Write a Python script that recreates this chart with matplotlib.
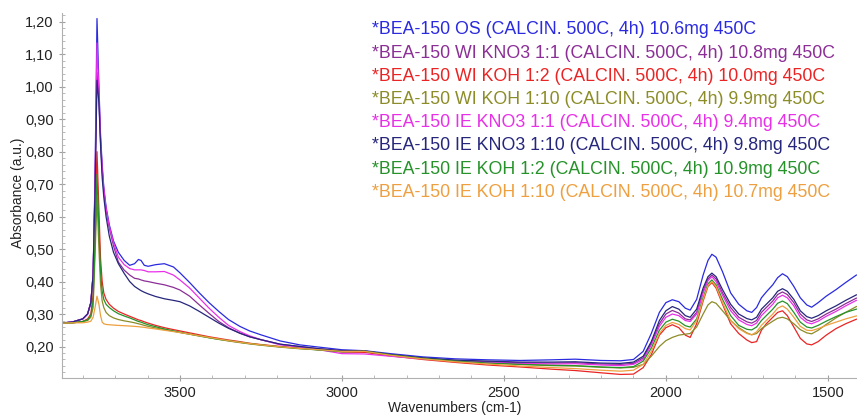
import matplotlib
matplotlib.use("Agg")
import matplotlib.pyplot as plt
from matplotlib.ticker import MultipleLocator, FuncFormatter

plt.rcParams['font.family'] = ['Liberation Sans', 'DejaVu Sans']

wavenumbers = [3864, 3830, 3800, 3785, 3775, 3768, 3762, 3756, 3750, 3745, 3740, 3735, 3728, 3718,
               3705, 3690, 3672, 3655, 3640, 3628, 3620, 3610, 3598, 3575, 3548, 3520, 3500, 3470,
               3440, 3410, 3380, 3350, 3315, 3285, 3250, 3190, 3130, 3070,
               3000, 2930, 2850, 2750, 2650, 2550, 2450, 2350, 2280, 2200, 2140, 2100,
               2070, 2045, 2020, 2000, 1980, 1960, 1940, 1925, 1905, 1885, 1870, 1858, 1845, 1825,
               1800, 1775, 1750, 1735, 1720, 1705, 1690, 1670, 1655, 1640, 1625, 1605, 1585, 1565,
               1550, 1530, 1505, 1475, 1445, 1412]

labels = [
    "*BEA-150 OS (CALCIN. 500C, 4h) 10.6mg 450C",
    "*BEA-150 WI KNO3 1:1 (CALCIN. 500C, 4h) 10.8mg 450C",
    "*BEA-150 WI KOH 1:2 (CALCIN. 500C, 4h) 10.0mg 450C",
    "*BEA-150 WI KOH 1:10 (CALCIN. 500C, 4h) 9.9mg 450C",
    "*BEA-150 IE KNO3 1:1 (CALCIN. 500C, 4h) 9.4mg 450C",
    "*BEA-150 IE KNO3 1:10 (CALCIN. 500C, 4h) 9.8mg 450C",
    "*BEA-150 IE KOH 1:2 (CALCIN. 500C, 4h) 10.9mg 450C",
    "*BEA-150 IE KOH 1:10 (CALCIN. 500C, 4h) 10.7mg 450C",
]

colors = ['#2a2ae0', '#8b2e96', '#ea2424', '#8c8c28', '#e830e8', '#26267c', '#26922a', '#eea040']

bea_os = [0.272, 0.276, 0.285, 0.300, 0.335, 0.420, 0.720, 1.210, 1.000, 0.850, 0.760, 0.690, 0.630, 0.575,
          0.525, 0.490, 0.465, 0.450, 0.455, 0.468, 0.465, 0.450, 0.447, 0.452, 0.455, 0.445, 0.427, 0.397,
          0.365, 0.335, 0.308, 0.283, 0.262, 0.248, 0.236, 0.217, 0.205, 0.198,
          0.190, 0.187, 0.178, 0.168, 0.162, 0.159, 0.157, 0.159, 0.161, 0.157, 0.156, 0.160,
          0.185, 0.240, 0.305, 0.335, 0.344, 0.338, 0.318, 0.312, 0.345, 0.420, 0.465, 0.484, 0.475, 0.430,
          0.365, 0.330, 0.310, 0.305, 0.320, 0.350, 0.368, 0.390, 0.412, 0.424, 0.415, 0.385, 0.350, 0.328,
          0.321, 0.335, 0.355, 0.375, 0.397, 0.420]

wi_kno3_11 = [0.272, 0.276, 0.285, 0.300, 0.335, 0.420, 0.690, 1.045, 0.960, 0.830, 0.740, 0.680, 0.620, 0.565,
              0.510, 0.460, 0.435, 0.420, 0.410, 0.408, 0.405, 0.402, 0.400, 0.395, 0.390, 0.382, 0.374, 0.355,
              0.328, 0.302, 0.277, 0.258, 0.241, 0.230, 0.221, 0.207, 0.200, 0.193,
              0.187, 0.186, 0.175, 0.164, 0.157, 0.153, 0.150, 0.149, 0.150, 0.146, 0.145, 0.148,
              0.165, 0.210, 0.270, 0.300, 0.311, 0.303, 0.285, 0.282, 0.305, 0.370, 0.408, 0.420, 0.408, 0.365,
              0.320, 0.290, 0.276, 0.272, 0.280, 0.305, 0.320, 0.340, 0.360, 0.368, 0.360, 0.335, 0.300, 0.282,
              0.277, 0.285, 0.300, 0.315, 0.332, 0.349]

wi_koh_12 = [0.272, 0.273, 0.277, 0.285, 0.300, 0.360, 0.580, 0.800, 0.620, 0.470, 0.400, 0.365, 0.345, 0.330,
             0.318, 0.308, 0.300, 0.293, 0.287, 0.282, 0.280, 0.276, 0.272, 0.265, 0.258, 0.252, 0.248, 0.242,
             0.236, 0.230, 0.225, 0.220, 0.215, 0.210, 0.206, 0.200, 0.195, 0.190,
             0.183, 0.182, 0.171, 0.160, 0.151, 0.143, 0.137, 0.130, 0.126, 0.119, 0.114, 0.115,
             0.135, 0.175, 0.235, 0.258, 0.267, 0.258, 0.235, 0.228, 0.270, 0.340, 0.385, 0.397, 0.380, 0.330,
             0.270, 0.240, 0.220, 0.212, 0.215, 0.250, 0.270, 0.290, 0.305, 0.310, 0.295, 0.260, 0.225, 0.208,
             0.205, 0.215, 0.235, 0.255, 0.270, 0.284]

wi_koh_110 = [0.272, 0.273, 0.277, 0.280, 0.290, 0.320, 0.480, 0.660, 0.500, 0.390, 0.340, 0.320, 0.305, 0.295,
              0.288, 0.283, 0.279, 0.276, 0.273, 0.270, 0.268, 0.265, 0.262, 0.257, 0.252, 0.247, 0.243, 0.238,
              0.232, 0.227, 0.222, 0.217, 0.212, 0.208, 0.204, 0.198, 0.193, 0.190,
              0.186, 0.186, 0.175, 0.164, 0.156, 0.150, 0.145, 0.141, 0.140, 0.136, 0.134, 0.136,
              0.145, 0.170, 0.200, 0.218, 0.228, 0.235, 0.238, 0.240, 0.260, 0.300, 0.328, 0.338, 0.333, 0.310,
              0.280, 0.258, 0.242, 0.236, 0.240, 0.255, 0.265, 0.278, 0.287, 0.290, 0.285, 0.270, 0.252, 0.242,
              0.239, 0.250, 0.268, 0.288, 0.305, 0.323]

ie_kno3_11 = [0.272, 0.276, 0.285, 0.300, 0.335, 0.420, 0.700, 1.135, 0.980, 0.840, 0.750, 0.685, 0.625, 0.570,
              0.520, 0.475, 0.452, 0.440, 0.436, 0.436, 0.436, 0.434, 0.430, 0.430, 0.431, 0.420, 0.405, 0.380,
              0.349, 0.318, 0.290, 0.265, 0.246, 0.233, 0.221, 0.205, 0.198, 0.190,
              0.178, 0.177, 0.170, 0.162, 0.155, 0.151, 0.148, 0.146, 0.147, 0.143, 0.141, 0.145,
              0.160, 0.205, 0.262, 0.290, 0.300, 0.295, 0.280, 0.277, 0.300, 0.365, 0.403, 0.415, 0.400, 0.358,
              0.310, 0.282, 0.268, 0.264, 0.272, 0.295, 0.310, 0.330, 0.350, 0.358, 0.350, 0.325, 0.290, 0.274,
              0.270, 0.278, 0.293, 0.308, 0.325, 0.342]

ie_kno3_110 = [0.272, 0.276, 0.285, 0.300, 0.335, 0.420, 0.680, 1.020, 0.950, 0.820, 0.720, 0.660, 0.600, 0.540,
               0.490, 0.455, 0.425, 0.400, 0.385, 0.377, 0.372, 0.367, 0.362, 0.354, 0.347, 0.342, 0.338, 0.325,
               0.308, 0.290, 0.272, 0.256, 0.241, 0.230, 0.221, 0.207, 0.200, 0.193,
               0.187, 0.186, 0.175, 0.165, 0.158, 0.155, 0.152, 0.152, 0.153, 0.149, 0.148, 0.152,
               0.170, 0.215, 0.280, 0.310, 0.323, 0.315, 0.295, 0.290, 0.315, 0.380, 0.415, 0.426, 0.415, 0.375,
               0.330, 0.300, 0.286, 0.282, 0.290, 0.315, 0.330, 0.350, 0.370, 0.378, 0.370, 0.345, 0.310, 0.292,
               0.287, 0.295, 0.310, 0.325, 0.342, 0.359]

ie_koh_12 = [0.272, 0.273, 0.277, 0.282, 0.295, 0.340, 0.520, 0.730, 0.560, 0.430, 0.370, 0.345, 0.330, 0.320,
             0.310, 0.301, 0.294, 0.288, 0.282, 0.277, 0.275, 0.271, 0.267, 0.261, 0.254, 0.248, 0.244, 0.238,
             0.233, 0.227, 0.222, 0.218, 0.213, 0.209, 0.205, 0.199, 0.194, 0.189,
             0.184, 0.185, 0.174, 0.163, 0.155, 0.149, 0.145, 0.142, 0.141, 0.137, 0.135, 0.138,
             0.155, 0.195, 0.250, 0.275, 0.284, 0.278, 0.264, 0.260, 0.285, 0.350, 0.393, 0.405, 0.390, 0.345,
             0.295, 0.265, 0.253, 0.251, 0.260, 0.280, 0.295, 0.315, 0.333, 0.340, 0.332, 0.305, 0.275, 0.260,
             0.257, 0.265, 0.278, 0.292, 0.305, 0.315]

ie_koh_110 = [0.272, 0.273, 0.273, 0.275, 0.278, 0.290, 0.320, 0.355, 0.330, 0.295, 0.275, 0.270, 0.268, 0.267,
              0.266, 0.265, 0.264, 0.263, 0.262, 0.261, 0.260, 0.259, 0.257, 0.254, 0.250, 0.246, 0.243, 0.238,
              0.233, 0.228, 0.223, 0.218, 0.213, 0.209, 0.205, 0.199, 0.194, 0.190,
              0.185, 0.185, 0.173, 0.162, 0.153, 0.146, 0.140, 0.135, 0.132, 0.127, 0.124, 0.127,
              0.145, 0.185, 0.240, 0.265, 0.274, 0.268, 0.255, 0.251, 0.280, 0.345, 0.388, 0.400, 0.385, 0.335,
              0.280, 0.255, 0.240, 0.236, 0.245, 0.265, 0.280, 0.300, 0.318, 0.325, 0.315, 0.290, 0.262, 0.250,
              0.249, 0.255, 0.265, 0.275, 0.285, 0.294]

series = [bea_os, wi_kno3_11, wi_koh_12, wi_koh_110, ie_kno3_11, ie_kno3_110, ie_koh_12, ie_koh_110]

y_ticks = [0.20, 0.30, 0.40, 0.50, 0.60, 0.70, 0.80, 0.90, 1.00, 1.10, 1.20]
x_ticks = [3500, 3000, 2500, 2000, 1500]

W, H = 857, 417
fig = plt.figure(figsize=(W / 100, H / 100), dpi=100)
ax = fig.add_axes([62 / W, 1 - 378 / H, (857 - 62) / W, (378 - 13) / H])

for vals, c, lab in zip(series, colors, labels):
    ax.plot(wavenumbers, vals, color=c, lw=0.9, label=lab)

ax.set_xlim(3864, 1410)
ax.set_ylim(0.103, 1.227)
ax.set_yticks(y_ticks)
ax.set_xticks(x_ticks)
ax.xaxis.set_minor_locator(MultipleLocator(100))
ax.yaxis.set_minor_locator(MultipleLocator(0.02))
ax.yaxis.set_major_formatter(FuncFormatter(lambda v, p: f"{v:.2f}".replace('.', ',')))

for s in ['top', 'right']:
    ax.spines[s].set_visible(False)
for s in ['left', 'bottom']:
    ax.spines[s].set_color('#b0b0b0')
    ax.spines[s].set_linewidth(0.8)
ax.tick_params(which='major', direction='inout', length=4, color='#a0a0a0', labelsize=10.5,
               labelcolor='#222222', width=0.8, pad=4)
ax.tick_params(which='minor', direction='in', length=2, color='#b0b0b0', width=0.6)

fig.text(455 / W, 1 - 408 / H, "Wavenumbers (cm-1)", fontsize=10, color='#222222',
         ha='center', va='center')
fig.text(18 / W, 1 - 193 / H, "Absorbance (a.u.)", fontsize=10, color='#222222',
         ha='center', va='center', rotation=90)

for i, (lab, c) in enumerate(zip(labels, colors)):
    fig.text(372 / W, 1 - (30 + i * 23.2) / H, lab, color=c, fontsize=12.8, va='center', ha='left')

fig.savefig("out.png", dpi=100)
